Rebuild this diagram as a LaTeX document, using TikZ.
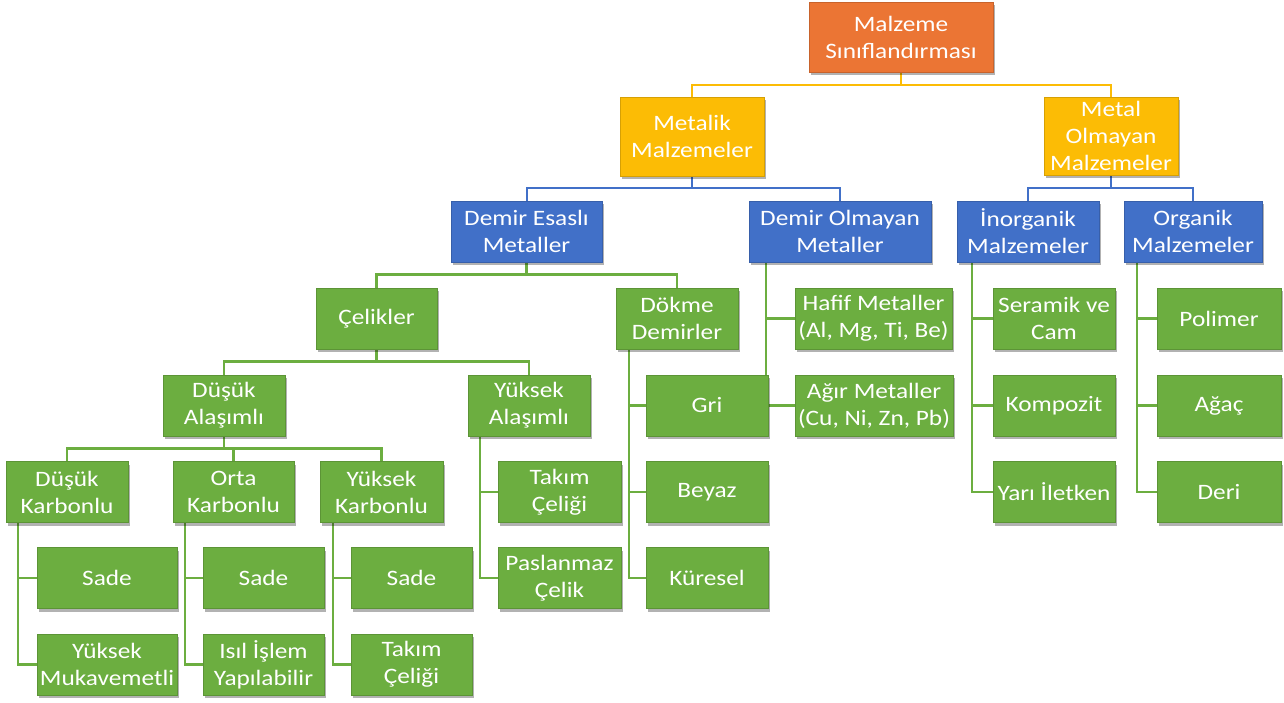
\documentclass[tikz,border=0pt]{standalone}
\usepackage{fontspec}
\setmainfont{Carlito}[FakeStretch=1.15]
\usetikzlibrary{shadows,backgrounds}
\definecolor{corange}{HTML}{EB7534}
\definecolor{cgold}{HTML}{FCBC05}
\definecolor{cblue}{HTML}{4170C8}
\definecolor{cgreen}{HTML}{6CAE40}
\tikzset{
  base/.style={rectangle, text=white, align=center, inner sep=0pt,
    font=\fontsize{22}{27}\selectfont, line width=0.8pt,
    drop shadow={shadow xshift=2pt, shadow yshift=-3pt, fill=black, opacity=0.3}},
  obox/.style={base, fill=corange, draw=corange!85!black},
  ybox/.style={base, fill=cgold, draw=cgold!85!black},
  bbox/.style={base, fill=cblue, draw=cblue!85!black},
  gbox/.style={base, fill=cgreen, draw=cgreen!85!black},
  sz/.style 2 args={minimum width=#1, minimum height=#2},
  yline/.style={draw=cgold, line width=2pt},
  bline/.style={draw=cblue, line width=2pt},
  gline/.style={draw=cgreen, line width=2.2pt},
}
\begin{document}
\begin{tikzpicture}[x=1pt,y=-1pt]
\useasboundingbox (0,0) rectangle (1284,703);
% level 0-1
\node[obox, sz={184}{70}] (root) at (901,37) {Malzeme\\Sınıflandırması};
\node[ybox, sz={144}{79}] (metal) at (692,136.5) {Metalik\\Malzemeler};
\node[ybox, sz={134}{78}] (nonmetal) at (1111,136) {Metal\\Olmayan\\Malzemeler};
% level 2
\node[bbox, sz={151}{61}] (fe) at (526.5,231.5) {Demir Esaslı\\Metaller};
\node[bbox, sz={182}{61}] (nfe) at (840,231.5) {Demir Olmayan\\Metaller};
\node[bbox, sz={142}{61}] (inorg) at (1028,231.5) {İnorganik\\Malzemeler};
\node[bbox, sz={138}{61}] (org) at (1193,231.5) {Organik\\Malzemeler};
% level 3
\node[gbox, sz={121}{61}] (celik) at (376.5,318.5) {Çelikler};
\node[gbox, sz={122}{61}] (dokme) at (677,318.5) {Dökme\\Demirler};
\node[gbox, sz={157}{61}] (hafif) at (873.5,318.5) {Hafif Metaller\\(Al, Mg, Ti, Be)};
\node[gbox, sz={122}{61}] (seramik) at (1054,318.5) {Seramik ve\\Cam};
\node[gbox, sz={124}{61}] (polimer) at (1219,318.5) {Polimer};
% level 4
\node[gbox, sz={122}{61}] (dusukal) at (224,405.5) {Düşük\\Alaşımlı};
\node[gbox, sz={122}{61}] (yuksekal) at (529,405.5) {Yüksek\\Alaşımlı};
\node[gbox, sz={122}{61}] (gri) at (707,405.5) {Gri};
\node[gbox, sz={158}{61}] (agir) at (874,405.5) {Ağır Metaller\\(Cu, Ni, Zn, Pb)};
\node[gbox, sz={122}{61}] (kompozit) at (1054,405.5) {Kompozit};
\node[gbox, sz={124}{61}] (agac) at (1219,405.5) {Ağaç};
% level 5
\node[gbox, sz={122}{61}] (dk) at (67,492) {Düşük\\Karbonlu};
\node[gbox, sz={121}{61}] (ok) at (233.5,492) {Orta\\Karbonlu};
\node[gbox, sz={123}{61}] (yk) at (381.5,492) {Yüksek\\Karbonlu};
\node[gbox, sz={123}{61}] (takim1) at (559.5,492) {Takım\\Çeliği};
\node[gbox, sz={122}{61}] (beyaz) at (707,492) {Beyaz};
\node[gbox, sz={122}{61}] (yari) at (1054,492) {Yarı İletken};
\node[gbox, sz={124}{61}] (deri) at (1219,492) {Deri};
% level 6
\node[gbox, sz={140}{61}] (sade1) at (107,578) {Sade};
\node[gbox, sz={121}{61}] (sade2) at (263.5,578) {Sade};
\node[gbox, sz={121}{61}] (sade3) at (411.5,578) {Sade};
\node[gbox, sz={123}{61}] (paslanmaz) at (559.5,578) {Paslanmaz\\Çelik};
\node[gbox, sz={122}{61}] (kuresel) at (707,578) {Küresel};
% level 7
\node[gbox, sz={140}{61}] (yuksekmuk) at (107,664.5) {Yüksek\\Mukavemetli};
\node[gbox, sz={121}{61}] (isil) at (263.5,664.5) {Isıl İşlem\\Yapılabilir};
\node[gbox, sz={121}{61}] (takim2) at (411.5,664.5) {Takım\\Çeliği};

\begin{scope}[on background layer]
% yellow
\draw[yline] (root.south) -- ++(0,13) -| (metal.north);
\draw[yline] (root.south) -- ++(0,13) -| (nonmetal.north);
% blue
\draw[bline] (metal.south) -- ++(0,12) -| (fe.north);
\draw[bline] (metal.south) -- ++(0,12) -| (nfe.north);
\draw[bline] (nonmetal.south) -- ++(0,13) -| (inorg.north);
\draw[bline] (nonmetal.south) -- ++(0,13) -| (org.north);
% green buses
\draw[gline] (fe.south) -- ++(0,12) -| (celik.north);
\draw[gline] (fe.south) -- ++(0,12) -| (dokme.north);
\draw[gline] (celik.south) -- ++(0,12) -| (dusukal.north);
\draw[gline] (celik.south) -- ++(0,12) -| (yuksekal.north);
\draw[gline] (dusukal.south) -- ++(0,12) -| (dk.north);
\draw[gline] (dusukal.south) -- ++(0,12) -| (ok.north);
\draw[gline] (dusukal.south) -- ++(0,12) -| (yk.north);
% side trunks
\draw[gline] ([xshift=17pt]nfe.south west) |- (hafif.west);
\draw[gline] ([xshift=17pt]nfe.south west) |- (agir.west);
\draw[gline] ([xshift=15pt]inorg.south west) |- (seramik.west);
\draw[gline] ([xshift=15pt]inorg.south west) |- (kompozit.west);
\draw[gline] ([xshift=15pt]inorg.south west) |- (yari.west);
\draw[gline] ([xshift=13pt]org.south west) |- (polimer.west);
\draw[gline] ([xshift=13pt]org.south west) |- (agac.west);
\draw[gline] ([xshift=13pt]org.south west) |- (deri.west);
\draw[gline] ([xshift=13pt]dokme.south west) |- (gri.west);
\draw[gline] ([xshift=13pt]dokme.south west) |- (beyaz.west);
\draw[gline] ([xshift=13pt]dokme.south west) |- (kuresel.west);
\draw[gline] ([xshift=12pt]yuksekal.south west) |- (takim1.west);
\draw[gline] ([xshift=12pt]yuksekal.south west) |- (paslanmaz.west);
\draw[gline] ([xshift=12pt]dk.south west) |- (sade1.west);
\draw[gline] ([xshift=12pt]dk.south west) |- (yuksekmuk.west);
\draw[gline] ([xshift=12pt]ok.south west) |- (sade2.west);
\draw[gline] ([xshift=12pt]ok.south west) |- (isil.west);
\draw[gline] ([xshift=13pt]yk.south west) |- (sade3.west);
\draw[gline] ([xshift=13pt]yk.south west) |- (takim2.west);
\end{scope}
\end{tikzpicture}
\end{document}
